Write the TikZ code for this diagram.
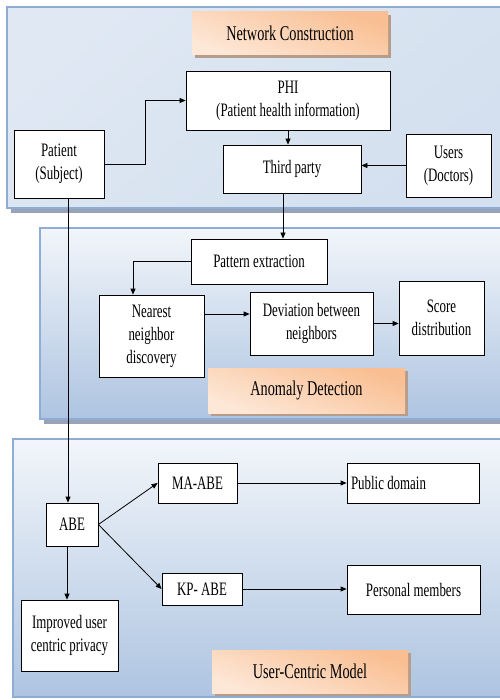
\documentclass[tikz,border=0pt]{standalone}
\usepackage{fontspec}
\setmainfont{Liberation Serif}[FakeStretch=0.68]
\usetikzlibrary{arrows.meta,positioning}

\definecolor{panelline}{HTML}{8EADD6}
\definecolor{paneldark}{HTML}{93B1D7}
\definecolor{panellight}{HTML}{DFE8F3}
\definecolor{panelshadow}{HTML}{98A4B6}
\definecolor{tagtop}{HTML}{F9BE91}
\definecolor{tagbot}{HTML}{FDE8D8}
\definecolor{tagshadow}{HTML}{B89C8A}

\begin{document}
\begin{tikzpicture}[x=1pt,y=-1pt,
  box/.style={draw, fill=white, line width=0.8pt, align=center, inner sep=2pt,
    font=\fontsize{19}{23}\selectfont},
  tag/.style={top color=tagtop, bottom color=tagbot, shading angle=-20,
    font=\fontsize{21}{25}\selectfont},
  arr/.style={line width=0.8pt, -{Triangle[length=6pt,width=5pt]}}]
\useasboundingbox (0,0) rectangle (499,700);

% Panels
\fill[panelshadow] (11,12) rectangle (510,213);
\shade[top color=panellight, middle color=paneldark, bottom color=panellight!85!paneldark,
  shading angle=40, draw=panelline, line width=1.2pt] (7,7) rectangle (506,208);
\fill[panelshadow] (44,233) rectangle (510,424);
\shade[top color=white!60!panellight, bottom color=paneldark!65!panellight,
  draw=panelline, line width=1.2pt] (40,228) rectangle (506,419);
\shade[top color=white!60!panellight, bottom color=paneldark!65!panellight,
  draw=panelline, line width=1.2pt] (13,439) rectangle (506,697);

% Panel titles
\fill[tagshadow] (195,15) rectangle (391,58);
\node[tag, minimum width=196, minimum height=43] (tnet) at (290,33.5) {Network Construction};
\fill[tagshadow] (211,371) rectangle (408,416);
\node[tag, minimum width=197, minimum height=45] (tano) at (306.5,390.5) {Anomaly Detection};
\fill[tagshadow] (215,653) rectangle (411,696);
\node[tag, minimum width=196, minimum height=43] (tuser) at (310,671.5) {User-Centric Model};

% Network construction
\node[box, minimum width=90, minimum height=68] (pat) at (59,164) {Patient\\(Subject)};
\node[box, minimum width=204, minimum height=59] (phi) at (288,100.5) {PHI\\(Patient health information)};
\node[box, minimum width=138, minimum height=48] (third) at (292,169) {Third party};
\node[box, minimum width=85, minimum height=63] (users) at (448.5,165.5) {Users\\(Doctors)};

% Anomaly detection
\node[box, minimum width=136, minimum height=45] (pat2) at (259,261.5) {Pattern extraction};
\node[box, minimum width=105, minimum height=82] (near) at (151.5,336) {Nearest\\neighbor\\discovery};
\node[box, minimum width=123, minimum height=63] (dev) at (311.5,323.5) {Deviation between\\neighbors};
\node[box, minimum width=85, minimum height=74] (score) at (441.5,318) {Score\\distribution};

% User-centric model
\node[box, minimum width=52, minimum height=43] (abe) at (72,524.5) {ABE};
\node[box, minimum width=79, minimum height=40] (ma) at (197.5,483) {MA-ABE};
\node[box, text width=124, inner xsep=4, align=flush left, minimum height=40] (pub) at (413,483) {Public domain};
\node[box, minimum width=80, minimum height=32] (kp) at (202,589) {KP- ABE};
\node[box, minimum width=133, minimum height=49] (pers) at (413.5,589.5) {Personal members};
\node[box, minimum width=97, minimum height=71] (imp) at (69.5,635.5) {Improved user\\centric privacy};

% Connectors
\draw[arr] (pat.east) -- ++(41,0) |- (phi.west);
\draw[arr] (phi.south) -- (phi.south |- third.north);
\draw[arr] (users.west) -- (users.west -| third.east);
\draw[arr] ([xshift=-9]third.south) -- ([xshift=-9]third.south |- pat2.north);
\draw[arr] (pat2.west) -| ([xshift=-18.5]near.north);
\draw[arr] ([yshift=22]near.east) -- ([yshift=22]near.east -| dev.west);
\draw[arr] (dev.east) -- (dev.east -| score.west);
\draw[arr] ([xshift=9]pat.south) -- ([xshift=9]pat.south |- abe.north);
\draw[arr] (abe.east) -- (ma.west);
\draw[arr] (abe.east) -- (kp.west);
\draw[arr] (ma.east) -- (pub.west);
\draw[arr] (kp.east) -- (kp.east -| pers.west);
\draw[arr] ([xshift=-5]abe.south) -- ([xshift=-5]abe.south |- imp.north);
\end{tikzpicture}
\end{document}
